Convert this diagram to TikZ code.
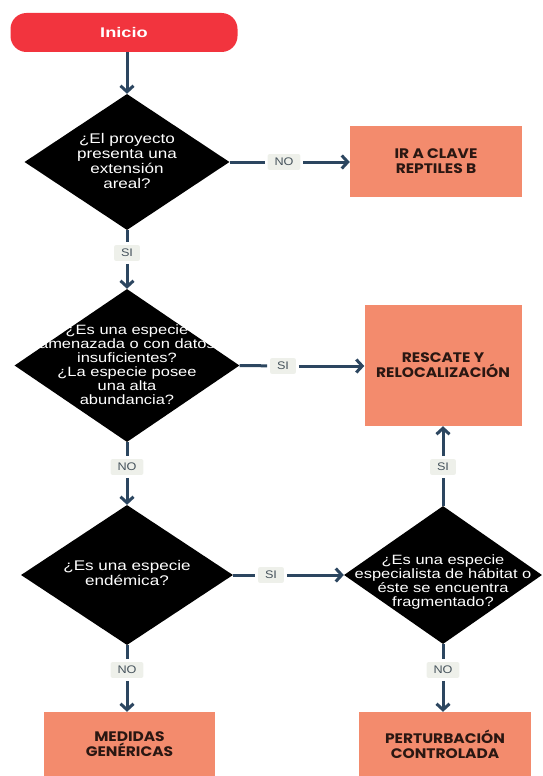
\documentclass[tikz,border=0pt]{standalone}
\usepackage{fontspec}
\setmainfont{Liberation Sans}
\newfontfamily\dfont[FakeStretch=1.22]{Liberation Sans}
\newfontfamily\ifont[FakeStretch=1.3]{Liberation Sans}
\newfontfamily\lfont[FakeStretch=1.15]{Liberation Sans}
\newfontfamily\bxfont[FakeStretch=1.12]{Poppins}
\usetikzlibrary{shapes.geometric,arrows.meta}
\definecolor{startred}{HTML}{F2343E}
\definecolor{salmon}{HTML}{F38B6D}
\definecolor{navy}{HTML}{2C4660}
\definecolor{lblbg}{HTML}{EEF0EA}
\definecolor{lbltxt}{HTML}{46535C}
\definecolor{boxtxt}{HTML}{2A1712}
\begin{document}
\begin{tikzpicture}[x=1pt,y=-1pt,
  dia/.style={diamond, fill=black, inner sep=0pt},
  dtext/.style={text=white, font=\dfont\fontsize{14}{15}\selectfont, align=center, inner sep=0pt},
  outbox/.style={fill=salmon, inner sep=0pt, text=boxtxt, font=\bxfont\bfseries\fontsize{13.8}{15}\selectfont, align=center},
  lbl/.style={fill=lblbg, text=lbltxt, font=\lfont\fontsize{11}{11}\selectfont, inner xsep=7pt, inner ysep=4pt, rounded corners=2pt, outer sep=3pt},
  conn/.style={draw=navy, line width=3pt},
  arr/.style={conn, -{Straight Barb[length=6pt,width=13pt]}}]
\useasboundingbox (0,0) rectangle (542,776);

\node[fill=startred, rounded corners=16pt, minimum width=227pt, minimum height=39pt, inner sep=0pt,
  text=white, font=\ifont\bfseries\fontsize{14}{16}\selectfont] (start) at (124,32.5) {Inicio};

\node[dia, minimum width=205pt, minimum height=136pt] (d1) at (127,162) {};
\node[dtext] (t1) at (127,161) {¿El proyecto\\presenta una\\extensión\\areal?};

\node[lbl] (no1) at (284,162) {NO};
\node[outbox, minimum width=172pt, minimum height=71pt] (b1) at (436,161.5) {IR A CLAVE\\REPTILES B};

\node[lbl] (si1) at (127,253) {SI};

\node[dia, minimum width=225pt, minimum height=153pt] (d2) at (127,365.5) {};
\node[dtext, font=\dfont\fontsize{13.5}{14}\selectfont] (t2) at (127,365) {¿Es una especie\\amenazada o con datos\\insuficientes?\\¿La especie posee\\una alta\\abundancia?};

\node[lbl] (si2) at (283,366) {SI};
\node[outbox, minimum width=157pt, minimum height=121pt] (b2) at (443,365.5) {RESCATE Y\\RELOCALIZACIÓN};

\node[lbl] (no2) at (127,467) {NO};

\node[dia, minimum width=212pt, minimum height=140pt] (d3) at (127,575) {};
\node[dtext] (t3) at (127,573) {¿Es una especie\\endémica?};

\node[lbl] (si3) at (271,575) {SI};

\node[dia, minimum width=198pt, minimum height=138pt] (d4) at (443,575) {};
\node[dtext, font=\dfont\fontsize{13.5}{14}\selectfont] (t4) at (443,582) {¿Es una especie\\especialista de hábitat o\\éste se encuentra\\fragmentado?};

\node[lbl] (si4) at (443,467) {SI};
\node[lbl] (no3) at (127,670) {NO};
\node[lbl] (no4) at (443,670) {NO};

\node[outbox, minimum width=171pt, minimum height=64pt] (b3) at (129.5,744) {MEDIDAS\\GENÉRICAS};
\node[outbox, minimum width=172pt, minimum height=64pt] (b4) at (445,744) {PERTURBACIÓN\\CONTROLADA};

% connectors
\draw[arr] (start.south -| d1.north) -- (d1.north);
\draw[conn] (d1.east) -- (no1);
\draw[arr] (no1) -- (b1.west |- no1);
\draw[conn] (d1.south) -- (si1);
\draw[arr] (si1) -- (d2.north);
\draw[conn] (d2.east) -- (si2);
\draw[arr] (si2) -- (b2.west |- si2);
\draw[conn] (d2.south) -- (no2);
\draw[arr] (no2) -- (d3.north);
\draw[conn] (d3.east) -- (si3);
\draw[arr] (si3) -- (d4.west);
\draw[conn] (d4.north) -- (si4);
\draw[arr] (si4) -- (si4 |- b2.south);
\draw[conn] (d3.south) -- (no3);
\draw[arr] (no3) -- (no3 |- b3.north);
\draw[conn] (d4.south) -- (no4);
\draw[arr] (no4) -- (no4 |- b4.north);
\end{tikzpicture}
\end{document}
